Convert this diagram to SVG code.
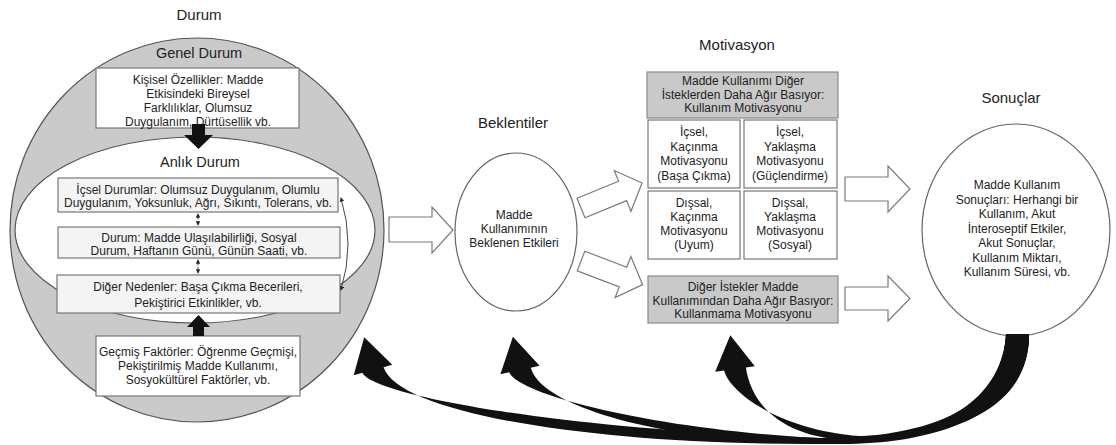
<svg xmlns="http://www.w3.org/2000/svg" width="1116" height="445" viewBox="0 0 1116 445">
<defs>
<style>
.t{font-family:"Liberation Sans",Arial,sans-serif;fill:#222;text-anchor:middle}
.title{font-size:15px}
.s{font-size:12px}
.hd{font-size:14.5px}
.wbox{fill:#fff;stroke:#777;stroke-width:1.2}
.lbox{fill:#f4f4f4;stroke:#777;stroke-width:1.2}
.gbox{fill:#c9c9c9;stroke:#8a8a8a;stroke-width:1.2}
.barrow{fill:#fff;stroke:#7a7a7a;stroke-width:1.2}
.black{fill:#111;stroke:none}
.thin{fill:none;stroke:#333;stroke-width:0.9}
</style>
<marker id="sm" viewBox="0 0 6 6" refX="5" refY="3" markerWidth="5" markerHeight="5" orient="auto-start-reverse">
<path d="M0,0 L6,3 L0,6 Z" fill="#222"/>
</marker>
</defs>
<rect width="1116" height="445" fill="#fff"/>

<g id="durum">
<text class="t title" x="199" y="20">Durum</text>
<ellipse cx="197" cy="230" rx="187" ry="192" fill="#cacaca" stroke="#555" stroke-width="1.2"/>
<text class="t hd" x="199" y="58">Genel Durum</text>
<ellipse cx="195" cy="230" rx="180" ry="93" fill="#fff" stroke="#555" stroke-width="1.2"/>
<text class="t hd" x="200" y="167">Anlık Durum</text>
</g>

<g id="kisisel">
<rect class="wbox" x="96" y="68" width="203" height="60"/>
<text class="t s" x="198" y="84">Kişisel Özellikler: Madde</text>
<text class="t s" x="198" y="98">Etkisindeki Bireysel</text>
<text class="t s" x="198" y="112">Farklılıklar, Olumsuz</text>
<text class="t s" x="198" y="126">Duygulanım, Dürtüsellik vb.</text>
</g>

<g id="icsel">
<rect class="lbox" x="58" y="178" width="280" height="34"/>
<text class="t s" x="198" y="194">İçsel Durumlar: Olumsuz Duygulanım, Olumlu</text>
<text class="t s" x="198" y="207">Duygulanım, Yoksunluk, Ağrı, Sıkıntı, Tolerans, vb.</text>
</g>

<g id="durum-box">
<rect class="lbox" x="58" y="227" width="282" height="31"/>
<text class="t s" x="199" y="242">Durum: Madde Ulaşılabilirliği, Sosyal</text>
<text class="t s" x="199" y="255">Durum, Haftanın Günü, Günün Saati, vb.</text>
</g>

<g id="diger">
<rect class="lbox" x="57" y="275" width="283" height="38"/>
<text class="t s" x="198" y="291">Diğer Nedenler: Başa Çıkma Becerileri,</text>
<text class="t s" x="198" y="307">Pekiştirici Etkinlikler, vb.</text>
</g>

<g id="gecmis">
<rect class="wbox" x="96" y="336" width="204" height="60"/>
<text class="t s" x="198" y="356">Geçmiş Faktörler: Öğrenme Geçmişi,</text>
<text class="t s" x="198" y="370">Pekiştirilmiş Madde Kullanımı,</text>
<text class="t s" x="198" y="384">Sosyokültürel Faktörler, vb.</text>
</g>

<g id="beklentiler">
<text class="t title" x="513" y="128">Beklentiler</text>
<ellipse cx="516" cy="232" rx="61" ry="79" fill="#fff" stroke="#666" stroke-width="1.2"/>
<text class="t s" x="514" y="219">Madde</text>
<text class="t s" x="514" y="233">Kullanımının</text>
<text class="t s" x="514" y="247">Beklenen Etkileri</text>
</g>

<g id="motivasyon">
<text class="t title" x="737" y="50">Motivasyon</text>
<rect class="gbox" x="647" y="72" width="191" height="46"/>
<text class="t s" x="743" y="85">Madde Kullanımı Diğer</text>
<text class="t s" x="743" y="98.5">İsteklerden Daha Ağır Basıyor:</text>
<text class="t s" x="743" y="112">Kullanım Motivasyonu</text>
</g>

<g id="ic-kacinma">
<rect class="wbox" x="648" y="120" width="92" height="68"/>
<text class="t s" x="694" y="136">İçsel,</text>
<text class="t s" x="694" y="150.5">Kaçınma</text>
<text class="t s" x="694" y="165">Motivasyonu</text>
<text class="t s" x="694" y="179.5">(Başa Çıkma)</text>
</g>
<g id="ic-yaklasma">
<rect class="wbox" x="744" y="120" width="93" height="68"/>
<text class="t s" x="790" y="136">İçsel,</text>
<text class="t s" x="790" y="150.5">Yaklaşma</text>
<text class="t s" x="790" y="165">Motivasyonu</text>
<text class="t s" x="790" y="179.5">(Güçlendirme)</text>
</g>
<g id="dis-kacinma">
<rect class="wbox" x="648" y="191" width="92" height="68"/>
<text class="t s" x="694" y="207">Dışsal,</text>
<text class="t s" x="694" y="221">Kaçınma</text>
<text class="t s" x="694" y="235">Motivasyonu</text>
<text class="t s" x="694" y="249">(Uyum)</text>
</g>
<g id="dis-yaklasma">
<rect class="wbox" x="744" y="191" width="93" height="68"/>
<text class="t s" x="790" y="207">Dışsal,</text>
<text class="t s" x="790" y="221">Yaklaşma</text>
<text class="t s" x="790" y="235">Motivasyonu</text>
<text class="t s" x="790" y="249">(Sosyal)</text>
</g>

<g id="kullanmama">
<rect class="gbox" x="648" y="276" width="190" height="47"/>
<text class="t s" x="743" y="291">Diğer İstekler Madde</text>
<text class="t s" x="743" y="304.5">Kullanımından Daha Ağır Basıyor:</text>
<text class="t s" x="743" y="318">Kullanmama Motivasyonu</text>
</g>

<g id="sonuclar">
<text class="t title" x="1011" y="103">Sonuçlar</text>
<ellipse cx="1016" cy="230" rx="94" ry="106" fill="#fff" stroke="#666" stroke-width="1.2"/>
<text class="t s" x="1017" y="189">Madde Kullanım</text>
<text class="t s" x="1017" y="203.5">Sonuçları: Herhangi bir</text>
<text class="t s" x="1017" y="218">Kullanım, Akut</text>
<text class="t s" x="1017" y="232.5">İnteroseptif Etkiler,</text>
<text class="t s" x="1017" y="247">Akut Sonuçlar,</text>
<text class="t s" x="1017" y="261.5">Kullanım Miktarı,</text>
<text class="t s" x="1017" y="276">Kullanım Süresi, vb.</text>
</g>

<g id="connectors">
<path class="black" d="M192,124 H205 V135 H213 L198.5,149 L184,135 H192 Z"/>
<path class="black" d="M193,336 V327 H187 L198.5,315 L210,327 H204 V336 Z"/>
<line class="thin" x1="198" y1="214" x2="198" y2="225" stroke-dasharray="2 1.5" marker-start="url(#sm)" marker-end="url(#sm)"/>
<line class="thin" x1="198" y1="260" x2="198" y2="273" stroke-dasharray="2 1.5" marker-start="url(#sm)" marker-end="url(#sm)"/>
<path class="thin" d="M341,198 Q355,244 341,290" marker-start="url(#sm)" marker-end="url(#sm)"/>

<polygon class="barrow" points="389,217 432,217 432,207 453,230 432,253 432,242 389,242"/>
<polygon class="barrow" transform="translate(581,208) rotate(-22.3)" points="0,-10.5 45,-10.5 45,-22 66,0 45,22 45,10.5 0,10.5"/>
<polygon class="barrow" transform="translate(581,261) rotate(21)" points="0,-10.5 45,-10.5 45,-22 66,0 45,22 45,10.5 0,10.5"/>
<polygon class="barrow" points="845,177 888,177 888,166 910,189 888,212 888,201 845,201"/>
<polygon class="barrow" points="845,287 888,287 888,276 910,298.5 888,321 888,310 845,310"/>

<path class="black" d="M1029,334 C1030,400 970,444 820,444 C600,445 400,415 383.6,367.2 L392.3,364.8 L364.2,337.2 L353.7,375.2 L362.4,372.8 C372,395 560,430 820,438 C955,438 1003,395 1006,334 Z"/>
<path class="black" d="M1029,334 C1030,400 960,444 840,444 C680,445 542,410 530.8,367.7 L539.6,365.8 L512.9,336.7 L500.4,374.2 L509.2,372.3 C518,395 660,432 840,439 C950,439 1003,395 1006,334 Z"/>
<path class="black" d="M1029,334 C1030,395 960,440 860,440 C790,441 752,410 745.9,367.5 L754.8,366.2 L730.3,335.3 L715.2,371.8 L724.1,370.5 C730,393 780,430 860,436 C950,436 1003,392 1006,334 Z"/>
</g>
</svg>
